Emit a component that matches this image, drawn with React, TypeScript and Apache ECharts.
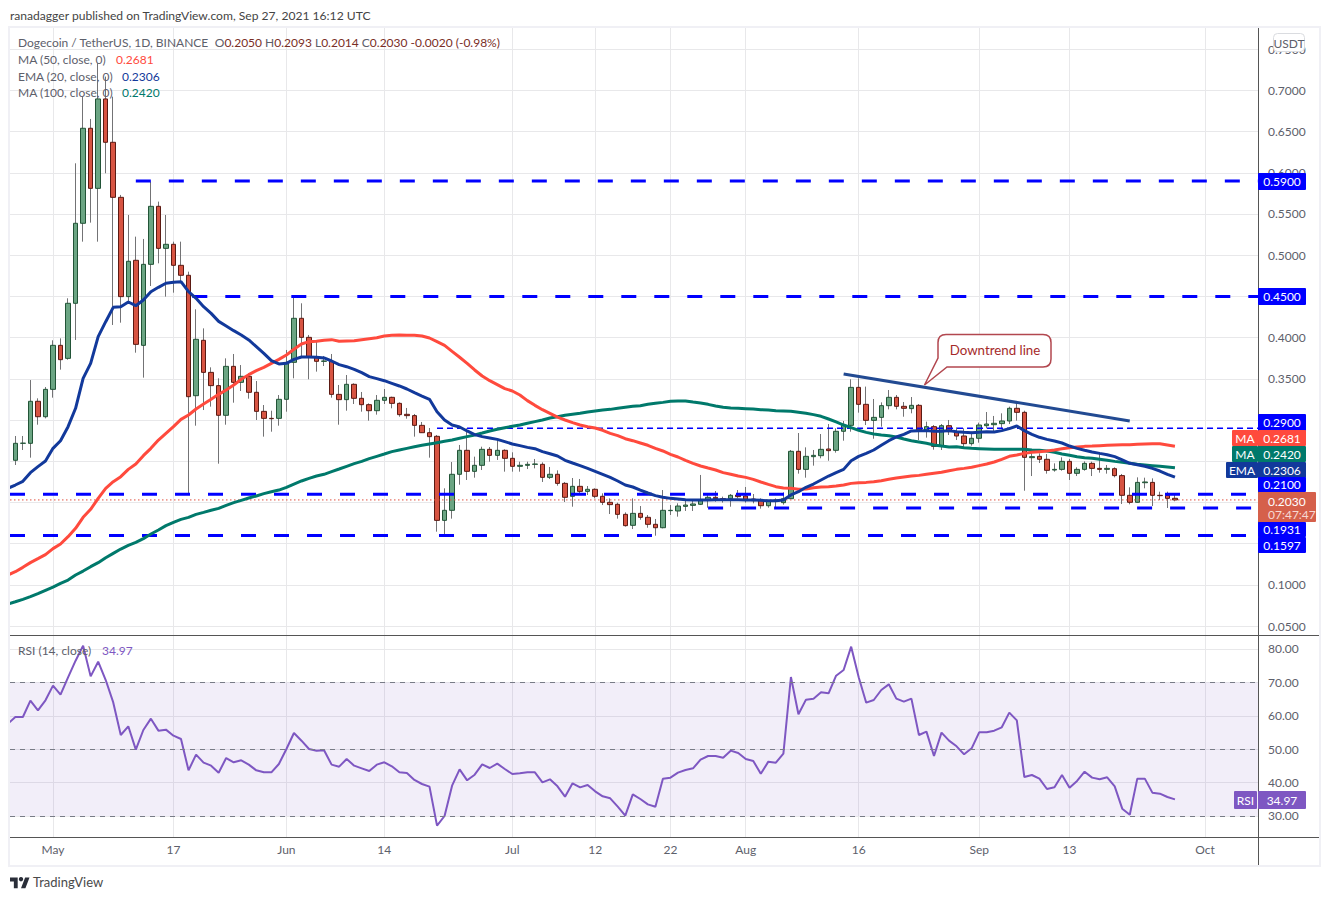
import { useEffect, useRef } from 'react';
import * as echarts from 'echarts';

const FONT = 'Lato, "Noto Sans", sans-serif';

// x axis is in days counted from May 1
const firstDay = -6;
const firstCandleDay = -5;
const xMin = -5.71;
const xMax = 160.03;
const tickDays = [0, 16, 31, 44, 61, 72, 82, 92, 107, 123, 135, 153];
const tickLabels = ['May', '17', 'Jun', '14', 'Jul', '12', '22', 'Aug', '16', 'Sep', '13', 'Oct'];
const priceTicks = [0.05, 0.1, 0.15, 0.2, 0.25, 0.3, 0.35, 0.4, 0.45, 0.5, 0.55, 0.6, 0.65, 0.7, 0.75];
// the other price ticks sit fully behind the tags on the axis
const priceLabels = [0.05, 0.1, 0.35, 0.4, 0.5, 0.55, 0.6, 0.65, 0.7, 0.75];
const rsiTicks = [30, 40, 50, 60, 70, 80];

// open, high, low, close - one row per day from firstCandleDay
const candles = [
  [0.2511, 0.2806, 0.2454, 0.2717], [0.2717, 0.2806, 0.2636, 0.2719], [0.2717, 0.3485, 0.2543, 0.3227],
  [0.3227, 0.3263, 0.2943, 0.304], [0.304, 0.34, 0.302, 0.3372], [0.3372, 0.3967, 0.3271, 0.3906], [0.3906, 0.3991, 0.3611, 0.3732],
  [0.3748, 0.4477, 0.3732, 0.4416], [0.4416, 0.6115, 0.3971, 0.5387], [0.5387, 0.6924, 0.5164, 0.654], [0.654, 0.6653, 0.5395, 0.5811],
  [0.5811, 0.7329, 0.5164, 0.6896], [0.6896, 0.7167, 0.5994, 0.637], [0.637, 0.6924, 0.4153, 0.5702], [0.5702, 0.5731, 0.4181, 0.4497],
  [0.4497, 0.5488, 0.4416, 0.4926], [0.4938, 0.5225, 0.3817, 0.3918], [0.3906, 0.5197, 0.3514, 0.4889], [0.4889, 0.5892, 0.4626, 0.5593],
  [0.5593, 0.565, 0.4901, 0.5083], [0.5083, 0.5488, 0.4497, 0.5132], [0.5132, 0.5164, 0.4545, 0.4877], [0.4877, 0.5164, 0.4659, 0.4756],
  [0.4756, 0.48, 0.211, 0.3283], [0.3295, 0.4343, 0.2931, 0.3979], [0.3967, 0.4112, 0.3121, 0.3578], [0.3578, 0.3639, 0.3162, 0.3417],
  [0.3417, 0.3506, 0.247, 0.3057], [0.3057, 0.3748, 0.2943, 0.3651], [0.3651, 0.3801, 0.321, 0.3457], [0.3457, 0.3667, 0.3352, 0.353],
  [0.353, 0.3566, 0.3259, 0.3336], [0.3336, 0.3473, 0.3, 0.3105], [0.3105, 0.3182, 0.2798, 0.302], [0.302, 0.3113, 0.2858, 0.3016],
  [0.302, 0.3303, 0.2931, 0.3251], [0.3251, 0.385, 0.3101, 0.37], [0.37, 0.4497, 0.3506, 0.4234], [0.4234, 0.4416, 0.3769, 0.4003],
  [0.4003, 0.4032, 0.3494, 0.3761], [0.3761, 0.3951, 0.3587, 0.3712], [0.3712, 0.3777, 0.3655, 0.3716], [0.3712, 0.3801, 0.3271, 0.3311],
  [0.3311, 0.3425, 0.2943, 0.3247], [0.3247, 0.3546, 0.3113, 0.3433], [0.3433, 0.3445, 0.3194, 0.3263], [0.3263, 0.334, 0.3101, 0.3186],
  [0.3186, 0.3202, 0.2992, 0.3113], [0.3113, 0.3303, 0.3065, 0.3239], [0.3239, 0.3376, 0.3194, 0.3275], [0.3275, 0.3283, 0.3142, 0.3202],
  [0.3202, 0.3214, 0.304, 0.3065], [0.3069, 0.3146, 0.3016, 0.3053], [0.3053, 0.3073, 0.2798, 0.2935], [0.2935, 0.2976, 0.2846, 0.2846],
  [0.2846, 0.2903, 0.2543, 0.2798], [0.2802, 0.2818, 0.1645, 0.1782], [0.1782, 0.2171, 0.1604, 0.1904], [0.1904, 0.249, 0.1803, 0.2341],
  [0.2341, 0.2697, 0.2215, 0.2632], [0.2632, 0.2899, 0.2272, 0.2377], [0.2377, 0.2555, 0.23, 0.245], [0.245, 0.2676, 0.2393, 0.2644],
  [0.2644, 0.2672, 0.2494, 0.2571], [0.2571, 0.2757, 0.2515, 0.2632], [0.2632, 0.2644, 0.2373, 0.2535], [0.2535, 0.2608, 0.2373, 0.2438],
  [0.2438, 0.2494, 0.2373, 0.245], [0.245, 0.2494, 0.2405, 0.2462], [0.2462, 0.2527, 0.2413, 0.2466], [0.2462, 0.2486, 0.2248, 0.2304],
  [0.2304, 0.243, 0.2284, 0.2341], [0.2341, 0.2389, 0.2203, 0.2231], [0.2231, 0.2248, 0.2005, 0.2062], [0.2074, 0.2296, 0.1948, 0.2195],
  [0.2195, 0.2284, 0.209, 0.2134], [0.2134, 0.2199, 0.209, 0.2159], [0.2159, 0.2171, 0.2049, 0.2074], [0.2074, 0.211, 0.1968, 0.2001],
  [0.2001, 0.2049, 0.1859, 0.1973], [0.1977, 0.1997, 0.1803, 0.1855], [0.1855, 0.1879, 0.1706, 0.1718], [0.1722, 0.2049, 0.1677, 0.1867],
  [0.1867, 0.1956, 0.179, 0.1819], [0.1819, 0.1847, 0.1693, 0.1734], [0.1734, 0.1799, 0.1596, 0.1693], [0.1693, 0.215, 0.1685, 0.1904],
  [0.19, 0.1968, 0.1847, 0.1904], [0.1896, 0.1989, 0.1827, 0.1956], [0.1952, 0.2029, 0.1896, 0.1968], [0.1964, 0.2029, 0.1896, 0.1981],
  [0.1977, 0.2333, 0.1968, 0.2029], [0.2029, 0.2102, 0.1936, 0.2062], [0.2062, 0.2138, 0.2009, 0.2045], [0.2045, 0.207, 0.1997, 0.2041],
  [0.2045, 0.2102, 0.1948, 0.2086], [0.209, 0.215, 0.2049, 0.207], [0.2078, 0.2187, 0.1997, 0.2033], [0.2041, 0.2102, 0.1989, 0.2021],
  [0.2029, 0.2049, 0.1924, 0.196], [0.196, 0.2029, 0.1936, 0.2013], [0.2029, 0.2049, 0.1936, 0.2013], [0.1997, 0.2122, 0.1973, 0.2045],
  [0.2045, 0.2636, 0.2045, 0.262], [0.262, 0.2842, 0.2349, 0.2401], [0.2401, 0.2668, 0.23, 0.2559], [0.2555, 0.2636, 0.2446, 0.2571],
  [0.2567, 0.283, 0.2535, 0.2644], [0.2648, 0.2951, 0.2506, 0.2628], [0.2632, 0.2899, 0.2604, 0.2863], [0.2863, 0.2988, 0.2749, 0.2935],
  [0.2935, 0.3494, 0.2858, 0.3396], [0.3396, 0.3506, 0.3089, 0.319], [0.319, 0.3405, 0.2939, 0.2996], [0.2996, 0.3255, 0.2773, 0.3032],
  [0.3032, 0.3214, 0.2919, 0.3174], [0.3174, 0.3364, 0.3129, 0.3275], [0.3275, 0.3303, 0.3129, 0.3166], [0.3166, 0.3218, 0.304, 0.3142],
  [0.3138, 0.3279, 0.3081, 0.3178], [0.3178, 0.3194, 0.2757, 0.2879], [0.2879, 0.298, 0.2786, 0.2919], [0.2919, 0.2939, 0.264, 0.268],
  [0.268, 0.2951, 0.2636, 0.2931], [0.2931, 0.3, 0.2818, 0.2858], [0.2858, 0.2911, 0.2757, 0.2806], [0.2806, 0.2899, 0.2676, 0.2713],
  [0.2713, 0.2858, 0.2689, 0.2778], [0.2778, 0.2968, 0.2725, 0.2939], [0.2931, 0.3097, 0.2899, 0.2951], [0.2943, 0.3049, 0.285, 0.296],
  [0.2956, 0.3081, 0.2899, 0.2988], [0.2988, 0.3162, 0.2951, 0.3142], [0.3142, 0.3202, 0.2992, 0.3093], [0.3093, 0.3113, 0.2142, 0.2547],
  [0.2543, 0.2636, 0.232, 0.2555], [0.2559, 0.2595, 0.2478, 0.2523], [0.2523, 0.2587, 0.2349, 0.2389], [0.2393, 0.2474, 0.2373, 0.2401],
  [0.2401, 0.2547, 0.2385, 0.2498], [0.2498, 0.2527, 0.2272, 0.2353], [0.2353, 0.2426, 0.232, 0.2401], [0.2401, 0.2498, 0.2385, 0.2474],
  [0.2474, 0.2494, 0.232, 0.2413], [0.2413, 0.2604, 0.2361, 0.2401], [0.2401, 0.2454, 0.2349, 0.2413], [0.2409, 0.2426, 0.2304, 0.2325],
  [0.2325, 0.2345, 0.1981, 0.2086], [0.2086, 0.2183, 0.1977, 0.2001], [0.2001, 0.2304, 0.1997, 0.2243], [0.2239, 0.23, 0.2171, 0.2248],
  [0.2243, 0.2292, 0.1956, 0.2086], [0.2086, 0.213, 0.2029, 0.2082], [0.2086, 0.213, 0.1932, 0.2049], [0.205, 0.2093, 0.2014, 0.203],
];

const ema20 = [
  0.2171, 0.2211, 0.2256, 0.2361, 0.2434, 0.2502, 0.2656, 0.2749, 0.2919, 0.3142,
  0.3506, 0.3688, 0.4011, 0.4193, 0.4367, 0.4375, 0.4432, 0.4387, 0.4456, 0.4557,
  0.461, 0.4659, 0.4671, 0.4679, 0.4557, 0.4477, 0.4375, 0.4294, 0.4197, 0.4141,
  0.4084, 0.4032, 0.3971, 0.389, 0.3809, 0.372, 0.368, 0.3688, 0.3736, 0.3765,
  0.3765, 0.3761, 0.3753, 0.3716, 0.3672, 0.3647, 0.3615, 0.3574, 0.3526, 0.3502,
  0.3477, 0.3445, 0.3413, 0.3376, 0.3332, 0.3291, 0.3251, 0.3101, 0.3, 0.2939,
  0.2915, 0.2867, 0.2822, 0.2798, 0.2782, 0.2765, 0.2737, 0.2709, 0.2689, 0.2668,
  0.2652, 0.2616, 0.2591, 0.2563, 0.2511, 0.2478, 0.2446, 0.2413, 0.2377, 0.2341,
  0.2304, 0.226, 0.2211, 0.2187, 0.215, 0.2114, 0.2082, 0.2062, 0.2049, 0.2041,
  0.2033, 0.2029, 0.2029, 0.2029, 0.2033, 0.2033, 0.2033, 0.2033, 0.2029, 0.2029,
  0.2025, 0.2021, 0.2021, 0.2029, 0.209, 0.213, 0.2183, 0.2223, 0.2272, 0.232,
  0.2361, 0.2401, 0.2506, 0.2559, 0.2595, 0.2636, 0.2693, 0.2749, 0.2794, 0.2826,
  0.2867, 0.2871, 0.2871, 0.2863, 0.2863, 0.2871, 0.2858, 0.285, 0.2846, 0.285,
  0.2858, 0.2854, 0.2871, 0.2895, 0.2927, 0.2871, 0.2826, 0.279, 0.2765, 0.2745,
  0.2721, 0.2684, 0.2656, 0.2632, 0.2612, 0.2595, 0.2579, 0.2555, 0.2515, 0.2474,
  0.2458, 0.2438, 0.2413, 0.2381, 0.2341, 0.2306,
];

const ma50 = [
  0.1119, 0.1159, 0.1212, 0.1269, 0.1317, 0.1366, 0.1439, 0.1495, 0.1584, 0.1685,
  0.1819, 0.1916, 0.2049, 0.2171, 0.2252, 0.2312, 0.2401, 0.2466, 0.2567, 0.2656,
  0.2757, 0.2838, 0.2919, 0.3008, 0.3061, 0.3134, 0.3194, 0.3251, 0.3311, 0.3364,
  0.3425, 0.3494, 0.355, 0.3599, 0.3639, 0.3688, 0.3736, 0.3789, 0.3858, 0.3922,
  0.3951, 0.3955, 0.3967, 0.3975, 0.3955, 0.3959, 0.3963, 0.3975, 0.3987, 0.3999,
  0.4019, 0.4028, 0.4032, 0.4028, 0.4028, 0.4019, 0.3995, 0.3951, 0.3906, 0.3833,
  0.3761, 0.3688, 0.3607, 0.3534, 0.3477, 0.3429, 0.338, 0.3352, 0.3303, 0.3235,
  0.3178, 0.3125, 0.3081, 0.3036, 0.3, 0.2968, 0.2939, 0.2919, 0.2903, 0.2875,
  0.2838, 0.281, 0.2773, 0.2749, 0.2721, 0.2693, 0.2656, 0.2624, 0.2583, 0.2551,
  0.2511, 0.2474, 0.2442, 0.2417, 0.2393, 0.2361, 0.2341, 0.232, 0.2304, 0.228,
  0.2248, 0.2219, 0.2191, 0.2175, 0.2171, 0.2159, 0.2163, 0.2179, 0.2187, 0.2191,
  0.2199, 0.2211, 0.2231, 0.2239, 0.2243, 0.2252, 0.2264, 0.228, 0.2296, 0.2308,
  0.232, 0.2328, 0.2341, 0.2353, 0.2365, 0.2385, 0.2401, 0.2413, 0.2426, 0.2446,
  0.2466, 0.249, 0.2523, 0.2559, 0.2575, 0.2595, 0.2608, 0.2616, 0.2624, 0.2636,
  0.2652, 0.2664, 0.2672, 0.268, 0.2684, 0.2689, 0.2693, 0.2697, 0.2701, 0.2701,
  0.2705, 0.2709, 0.2713, 0.2713, 0.2697, 0.2681,
];

const ma100 = [
  0.0767, 0.0795, 0.0824, 0.0856, 0.0892, 0.0933, 0.0973, 0.1018, 0.1058, 0.1119,
  0.1167, 0.122, 0.1269, 0.1329, 0.1382, 0.1434, 0.1479, 0.1515, 0.156, 0.1617,
  0.1665, 0.1718, 0.1758, 0.1794, 0.1819, 0.1855, 0.1879, 0.1904, 0.1928, 0.1964,
  0.1997, 0.2025, 0.2053, 0.2078, 0.2106, 0.213, 0.215, 0.2183, 0.2223, 0.226,
  0.2292, 0.232, 0.2341, 0.2373, 0.2405, 0.2438, 0.247, 0.2498, 0.2531, 0.2559,
  0.2587, 0.2616, 0.2636, 0.2656, 0.2676, 0.2693, 0.2709, 0.2725, 0.2741, 0.2757,
  0.2778, 0.2798, 0.2818, 0.2842, 0.2867, 0.2887, 0.2907, 0.2923, 0.2939, 0.296,
  0.298, 0.3, 0.3024, 0.304, 0.3057, 0.3069, 0.3081, 0.3097, 0.3109, 0.3121,
  0.3129, 0.3142, 0.3154, 0.3166, 0.3174, 0.319, 0.3202, 0.3214, 0.3227, 0.3231,
  0.3231, 0.3218, 0.3206, 0.319, 0.317, 0.3154, 0.3146, 0.3142, 0.3138, 0.3134,
  0.3125, 0.3121, 0.3113, 0.3109, 0.3105, 0.3093, 0.3081, 0.3065, 0.3045, 0.3012,
  0.2976, 0.2939, 0.2907, 0.2875, 0.285, 0.283, 0.2818, 0.281, 0.2794, 0.2769,
  0.2749, 0.2733, 0.2717, 0.2697, 0.2684, 0.2672, 0.2676, 0.2664, 0.2656, 0.2652,
  0.2648, 0.2644, 0.2644, 0.2644, 0.2644, 0.2644, 0.2636, 0.2632, 0.2624, 0.2608,
  0.2587, 0.2571, 0.2555, 0.2543, 0.2535, 0.2523, 0.2511, 0.2498, 0.2486, 0.2474,
  0.2462, 0.2454, 0.2446, 0.2438, 0.243, 0.242,
];

const rsi = [
  57.6, 59.64, 59.64, 64.53, 61.63, 64.63, 69.02, 66.33, 71.52, 76.5,
  81.0, 71.8, 76.2, 70.7, 64.0, 54.25, 56.85, 49.86, 55.75, 59.14,
  55.55, 55.85, 54.05, 53.05, 43.67, 48.36, 45.97, 45.07, 42.97, 47.36,
  46.07, 46.67, 45.37, 43.67, 43.07, 43.07, 45.57, 50.06, 54.85, 52.55,
  50.06, 49.56, 49.66, 45.37, 44.77, 47.06, 45.07, 44.27, 43.47, 45.37,
  46.07, 44.87, 43.07, 42.87, 40.78, 39.58, 38.78, 27.1, 30.0, 39.08,
  43.97, 40.68, 42.37, 45.47, 44.37, 45.67, 44.07, 42.57, 42.77, 43.07,
  43.07, 40.08, 40.98, 38.88, 35.79, 39.78, 38.58, 39.28, 37.38, 35.89,
  35.29, 32.79, 30.1, 36.49, 35.09, 33.49, 32.79, 41.18, 41.48, 42.97,
  43.77, 44.27, 46.86, 47.96, 47.96, 47.46, 49.56, 48.86, 47.06, 46.47,
  42.67, 46.27, 45.97, 48.66, 71.62, 60.44, 64.83, 65.13, 67.02, 66.72,
  72.01, 73.71, 80.7, 71.52, 63.93, 64.73, 67.72, 69.42, 65.13, 64.23,
  65.13, 54.25, 55.25, 47.96, 54.95, 52.55, 50.86, 48.46, 50.26, 55.05,
  55.05, 55.55, 56.55, 60.94, 58.64, 41.67, 42.27, 41.18, 38.08, 38.58,
  42.27, 38.48, 40.48, 43.27, 41.48, 40.98, 41.58, 38.88, 32.19, 30.39,
  41.18, 41.18, 36.99, 36.69, 35.69, 34.97,
];

// horizontal levels drawn on the price pane
const levelValues = [0.59, 0.45, 0.21, 0.1931, 0.1597];
const levelStartDays = [11, 18.5, xMin, 87, xMin];
const thinLevel = 0.29;
const thinLevelStart = 51;
const lastClose = 0.203;
const downtrendDays = [105, 143];
const downtrendValues = [0.3558, 0.2988];

const TV_LOGO = 'M14 22H7V11H0V4h14v18ZM28 22h-8l7.5-18h8L28 22Z';
const CALLOUT = 'M946 334.5H1043Q1051 334.5 1051 342.5V359Q1051 367 1043 367H947L924.5 385L938 358V342.5Q938 334.5 946 334.5Z';
echarts.graphic.registerShape('tvLogo', echarts.graphic.extendPath(TV_LOGO, {}));
echarts.graphic.registerShape('callout', echarts.graphic.extendPath(CALLOUT, {}));

const withDays = (values: number[]) => values.map((v, i) => [firstDay + i, v]);

function label(text: string, x: number, y: number, fill: string, size = 12, align = 'left') {
  return { type: 'text', z: 100, x, y, style: { text, fill, font: `${size}px ${FONT}`, align, verticalAlign: 'middle' } };
}

function tag(text: string, x: number, y: number, w: number, h: number, fill: string) {
  return [
    { type: 'rect', z: 100, shape: { x, y, width: w, height: h, r: 1 }, style: { fill } },
    { type: 'text', z: 101, x: x + w / 2, y: y + h / 2, style: { text, fill: '#fff', font: `12px ${FONT}`, align: 'center', verticalAlign: 'middle' } },
  ];
}

function maLine(name: string, values: number[], color: string) {
  return {
    name,
    type: 'line',
    xAxisIndex: 0,
    yAxisIndex: 0,
    data: withDays(values),
    showSymbol: false,
    lineStyle: { color, width: 3 },
  };
}

function levelLine(value: number, start: number, width: number, dash: number[]) {
  return {
    type: 'line',
    xAxisIndex: 0,
    yAxisIndex: 0,
    data: [[start, value], [xMax, value]],
    showSymbol: false,
    lineStyle: { color: '#0000ff', width, type: dash },
  };
}

export default function App() {
  const chartRef = useRef<HTMLDivElement>(null);

  useEffect(() => {
    if (!chartRef.current) return;
    const chart = echarts.init(chartRef.current, undefined, { renderer: 'svg' });

    const gray = '#5d606b';
    const maroon = '#7a2e26';
    const sharedX = {
      type: 'value',
      min: xMin,
      max: xMax,
      axisLine: { show: false },
      axisTick: { show: false, customValues: tickDays },
      splitLine: { show: true, lineStyle: { color: '#e8e8ea', width: 1 } },
    };

    chart.setOption({
      animation: false,
      textStyle: { fontFamily: FONT },
      grid: [
        { left: 10, top: 27, width: 1248, height: 608 },
        { left: 10, top: 636, width: 1248, height: 201 },
      ],
      xAxis: [
        { ...sharedX, gridIndex: 0, axisLabel: { show: false } },
        {
          ...sharedX,
          gridIndex: 1,
          axisLabel: {
            customValues: tickDays,
            color: gray,
            fontSize: 12,
            margin: 6,
            formatter: (v: number) => tickLabels[tickDays.indexOf(v)],
          },
        },
      ],
      yAxis: [
        {
          type: 'value',
          gridIndex: 0,
          position: 'right',
          min: 0.0391,
          max: 0.7769,
          axisLine: { show: false },
          axisTick: { show: false, customValues: priceTicks },
          axisLabel: { customValues: priceLabels, color: gray, fontSize: 12, margin: 10, formatter: (v: number) => v.toFixed(4) },
          splitLine: { lineStyle: { color: '#e8e8ea', width: 1 } },
        },
        {
          type: 'value',
          gridIndex: 1,
          position: 'right',
          min: 23.71,
          max: 83.89,
          axisLine: { show: false },
          axisTick: { show: false, customValues: rsiTicks },
          axisLabel: { customValues: rsiTicks, color: gray, fontSize: 12, margin: 10, formatter: (v: number) => v.toFixed(2) },
          splitLine: { lineStyle: { color: '#e8e8ea', width: 1 } },
        },
      ],
      series: [
        // wicks first, thin and gray, then the bodies without wicks on top
        {
          name: 'wicks',
          type: 'candlestick',
          xAxisIndex: 0,
          yAxisIndex: 0,
          barWidth: 1,
          data: candles.map((c, i) => [firstCandleDay + i, c[0], c[3], c[2], c[1]]),
          itemStyle: { color: '#737375', color0: '#737375', borderColor: '#737375', borderColor0: '#737375', borderWidth: 1 },
        },
        {
          name: 'bodies',
          type: 'candlestick',
          xAxisIndex: 0,
          yAxisIndex: 0,
          barWidth: 5,
          data: candles.map((c, i) => [firstCandleDay + i, c[0], c[3], Math.min(c[0], c[3]), Math.max(c[0], c[3])]),
          itemStyle: { color: '#6ba583', color0: '#d75442', borderColor: '#225437', borderColor0: '#5b1a13', borderWidth: 1 },
        },
        ...levelValues.map((v, i) => levelLine(v, levelStartDays[i], 3, [15, 18])),
        levelLine(thinLevel, thinLevelStart, 1.5, [6, 4]),
        {
          type: 'line',
          xAxisIndex: 0,
          yAxisIndex: 0,
          data: [[xMin, lastClose], [xMax, lastClose]],
          showSymbol: false,
          lineStyle: { color: '#e0503f', width: 1, type: [1.5, 2.5] },
        },
        maLine('MA 100', ma100, '#00796b'),
        maLine('MA 50', ma50, '#ff4a3d'),
        maLine('EMA 20', ema20, '#12399b'),
        {
          name: 'Downtrend',
          type: 'line',
          xAxisIndex: 0,
          yAxisIndex: 0,
          data: downtrendDays.map((d, i) => [d, downtrendValues[i]]),
          showSymbol: false,
          lineStyle: { color: '#224a92', width: 3 },
        },
        {
          name: 'RSI',
          type: 'line',
          xAxisIndex: 1,
          yAxisIndex: 1,
          data: withDays(rsi),
          showSymbol: false,
          lineStyle: { color: '#7e57c2', width: 2 },
          markArea: {
            silent: true,
            itemStyle: { color: 'rgba(126, 87, 194, 0.1)' },
            data: [[{ yAxis: 70 }, { yAxis: 30 }]],
          },
          markLine: {
            silent: true,
            symbol: 'none',
            label: { show: false },
            lineStyle: { color: '#787b86', width: 1, type: [5, 5] },
            data: [{ yAxis: 70 }, { yAxis: 50 }, { yAxis: 30 }],
          },
        },
      ],
      graphic: [
        // frame and pane separators
        { type: 'rect', z: 90, shape: { x: 9, y: 27, width: 1311, height: 839 }, style: { fill: 'none', stroke: '#f0f0f5', lineWidth: 2 } },
        { type: 'line', z: 91, shape: { x1: 10, y1: 635.5, x2: 1319, y2: 635.5 }, style: { stroke: '#555', lineWidth: 1 } },
        { type: 'line', z: 91, shape: { x1: 10, y1: 837.5, x2: 1319, y2: 837.5 }, style: { stroke: '#555', lineWidth: 1 } },
        { type: 'line', z: 91, shape: { x1: 1258.5, y1: 28, x2: 1258.5, y2: 865 }, style: { stroke: '#555', lineWidth: 1 } },

        label('ranadagger published on TradingView.com, Sep 27, 2021 16:12 UTC', 10, 15, '#444', 12.1),
        {
          type: 'text',
          z: 100,
          x: 18,
          y: 42,
          style: {
            text: 'Dogecoin / TetherUS, 1D, BINANCE  {m|O}{r|0.2050} {m|H}{r|0.2093} {m|L}{r|0.2014} {m|C}{r|0.2030} {r|-0.0020 (-0.98%)}',
            fill: gray,
            font: `12px ${FONT}`,
            verticalAlign: 'middle',
            rich: { m: { fill: gray, font: `12px ${FONT}` }, r: { fill: maroon, font: `12px ${FONT}` } },
          },
        },
        label('MA (50, close, 0)', 18, 59, gray),
        label('0.2681', 116, 59, '#ff4a3d'),
        label('EMA (20, close, 0)', 18, 76, gray),
        label('0.2306', 122, 76, '#12399b'),
        label('MA (100, close, 0)', 18, 92, gray),
        label('0.2420', 122, 92, '#00796b'),
        label('RSI (14, close)', 18, 650, gray),
        label('34.97', 102, 650, '#7e57c2'),

        // USDT box
        { type: 'rect', z: 100, shape: { x: 1273.5, y: 33.5, width: 31, height: 18, r: 4 }, style: { fill: '#fff', stroke: '#dadce0', lineWidth: 1 } },
        label('USDT', 1289, 43, gray, 12, 'center'),

        // price tags on the right axis
        ...tag('0.5900', 1258, 173, 48, 17, '#0000ff'),
        ...tag('0.4500', 1258, 288, 48, 17, '#0000ff'),
        ...tag('0.2900', 1258, 414, 48, 17, '#0000ff'),
        ...tag('MA', 1232, 430, 26, 16, '#ff4a3d'),
        ...tag('0.2681', 1258, 430, 48, 16, '#ff4a3d'),
        ...tag('MA', 1232, 446, 26, 16, '#00796b'),
        ...tag('0.2420', 1258, 446, 48, 16, '#00796b'),
        ...tag('EMA', 1226, 462, 32, 16, '#12399b'),
        ...tag('0.2306', 1258, 462, 48, 16, '#12399b'),
        ...tag('0.2100', 1258, 477, 48, 15, '#0000ff'),
        { type: 'rect', z: 100, shape: { x: 1258, y: 492, width: 58, height: 30, r: 1 }, style: { fill: '#d5604b' } },
        label('0.2030', 1268, 501, '#fff'),
        label('07:47:47', 1268, 514, '#f7d9d3'),
        ...tag('0.1931', 1258, 522, 48, 15, '#0000ff'),
        ...tag('0.1597', 1258, 537, 48, 16, '#0000ff'),

        // RSI tag
        ...tag('RSI', 1234, 791, 23, 18, '#7e57c2'),
        ...tag('34.97', 1258, 791, 48, 18, '#7e57c2'),

        // downtrend callout
        { type: 'callout', z: 100, x: 0, y: 0, style: { fill: '#fff', stroke: '#b2474f', lineWidth: 1.5 } },
        label('Downtrend line', 995, 350, '#a52a2a', 13.3, 'center'),

        // TradingView logo
        { type: 'tvLogo', z: 100, x: 10, y: 875, scaleX: 0.55, scaleY: 0.6, style: { fill: '#2a2e39' } },
        { type: 'circle', z: 100, shape: { cx: 21, cy: 879.2, r: 2.2 }, style: { fill: '#2a2e39' } },
        label('TradingView', 33, 882, '#4a4a4a', 13),
      ],
    });

    return () => chart.dispose();
  }, []);

  return <div ref={chartRef} style={{ position: 'absolute', left: 0, top: 0, width: 1330, height: 900 }} />;
}
